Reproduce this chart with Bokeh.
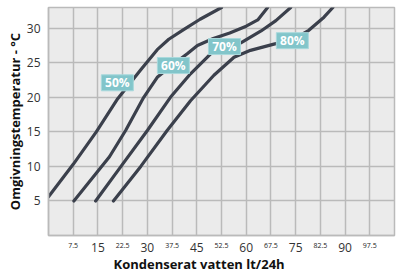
from bokeh.plotting import figure
from bokeh.models import FixedTicker, Range1d, Title, LinearAxis
from bokeh.core.properties import value
from bokeh.embed import file_html
from bokeh.resources import INLINE

# ---- data ----
x_ticks_major = [15, 30, 45, 60, 75, 90]
x_ticks_minor = [7.5, 22.5, 37.5, 52.5, 67.5, 82.5, 97.5]
x_minor_labels = ["7.5", "22.5", "37.5", "52.5", "67.5", "82.5", "97.5"]
y_ticks = [5, 10, 15, 20, 25, 30]

x50 = [0, 7.5, 14.5, 21, 28, 33, 36.5, 41, 46, 52.5]
y50 = [5.6, 10.3, 15, 19.8, 24.0, 26.9, 28.4, 29.8, 31.3, 33]

x60 = [7.7, 18.5, 23.4, 28.9, 33, 38.5, 42.1, 45.2, 50, 55, 60, 63.5, 66.5]
y60 = [5, 11.4, 15.2, 20, 22.9, 25, 26.3, 27.5, 28.5, 29.3, 30.3, 31.2, 33]

x70 = [14.3, 22, 30, 37, 43.1, 49.2, 53, 58.5, 64.5, 69, 73.5]
y70 = [5, 10, 15.2, 20, 23.4, 26.3, 27.2, 27.9, 29.6, 31.1, 33]

x80 = [19.7, 28, 36, 43.1, 50.2, 56.3, 61.3, 68.4, 74, 79, 83.6, 86.3]
y80 = [5, 10, 15.2, 19.5, 23.2, 25.8, 26.8, 27.7, 28.3, 29.7, 31.6, 33]

rh_labels = ["50%", "60%", "70%", "80%"]
label_x = [20.9, 37.9, 53.4, 74.0]
label_y = [22.1, 24.6, 27.35, 28.2]

x_title = "Kondenserat vatten lt/24h"
y_title = "Omgivningstemperatur - °C"

# ---- figure ----
GRID = "#bababa"
LINE = "#3b404c"
BOX = "#82c5ca"
FONT = "Open Sans"

p = figure(width=400, height=275, output_backend="svg", toolbar_location=None,
           x_range=Range1d(0, 105), y_range=Range1d(0, 33),
           min_border_left=48, min_border_right=6, min_border_top=7, min_border_bottom=40)
p.background_fill_color = "#ebebeb"
p.border_fill_color = "white"
p.outline_line_color = GRID
p.outline_line_width = 1.5

all_x = sorted(x_ticks_major + x_ticks_minor)
p.xgrid.ticker = FixedTicker(ticks=all_x)
p.ygrid.ticker = FixedTicker(ticks=y_ticks)
for g in (p.xgrid, p.ygrid):
    g.grid_line_color = GRID
    g.grid_line_width = 1.5

# second axis for the small intermediate labels, pulled up next to the main labels
minor_axis = LinearAxis(ticker=FixedTicker(ticks=x_ticks_minor),
                        major_label_overrides={v: t for v, t in zip(x_ticks_minor, x_minor_labels)})
p.add_layout(minor_axis, "below")

p.xaxis.ticker = FixedTicker(ticks=x_ticks_major)
minor_axis.ticker = FixedTicker(ticks=x_ticks_minor)
p.yaxis.ticker = FixedTicker(ticks=y_ticks)
for ax in p.xaxis + p.yaxis:
    ax.axis_line_color = GRID
    ax.axis_line_width = 1.5
    ax.major_tick_line_color = None
    ax.minor_tick_line_color = None
    ax.major_tick_out = 0
    ax.major_tick_in = 0
    ax.minor_tick_out = 0
    ax.minor_tick_in = 0
    ax.major_label_text_font = FONT
    ax.major_label_text_font_size = "12px"
    ax.major_label_text_color = "#333333"
minor_axis.axis_line_color = None
minor_axis.major_label_text_font_size = "7px"
minor_axis.major_label_text_color = "#222222"
minor_axis.major_label_standoff = -12
p.xaxis[0].major_label_standoff = 7
p.yaxis.major_label_standoff = 8
p.yaxis.axis_label = y_title
p.yaxis.axis_label_text_font = FONT
p.yaxis.axis_label_text_font_style = "bold"
p.yaxis.axis_label_text_font_size = "13px"
p.yaxis.axis_label_text_color = "#111111"
p.yaxis.axis_label_standoff = 0

for xs, ys in ((x50, y50), (x60, y60), (x70, y70), (x80, y80)):
    p.line(xs, ys, line_color=LINE, line_width=3.2, line_join="round", line_cap="round")

p.rect(x=label_x, y=label_y, width=32, height=16, width_units="screen", height_units="screen",
       fill_color=BOX, line_color="#a9d9dc", line_width=1)
p.text(x=label_x, y=label_y, text=rh_labels, text_color="white", text_font=value(FONT),
       text_font_style="bold", text_font_size="12px", text_align="center", text_baseline="middle")

p.add_layout(Title(text=x_title, align="left", offset=65, standoff=-3, text_font=FONT,
                   text_font_style="bold", text_font_size="13px", text_color="#111111"), "below")

open("out.html", "w").write(file_html(p, INLINE))
